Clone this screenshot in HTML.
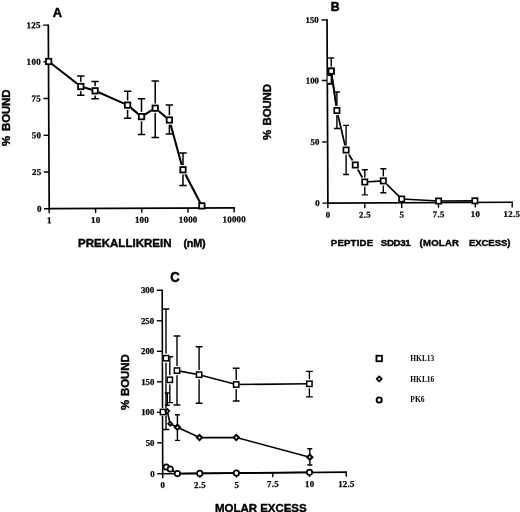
<!DOCTYPE html>
<html><head><meta charset="utf-8"><title>Figure</title>
<style>
html,body{margin:0;padding:0;background:#fff}
svg{display:block}
.tk{font-family:"Liberation Serif","DejaVu Serif",serif;font-weight:bold;fill:#000;stroke:#000;stroke-width:.25px}
.sb{font-family:"Liberation Sans","DejaVu Sans",sans-serif;font-weight:bold;fill:#000;stroke:#000;stroke-width:.4px}
.t{stroke-width:.5px}
.lg{font-family:"Liberation Serif","DejaVu Serif",serif;font-weight:bold;fill:#000}
</style></head><body>
<svg width="520" height="512" viewBox="0 0 520 512">
<rect width="520" height="512" fill="#fff"/>
<g transform="rotate(-0.28 49.2 208.7)">
<path d="M49.2 24.4V208.7H234.9" fill="none" stroke="#000" stroke-width="1.7"/>
<path d="M44 25.1H49.2" stroke="#000" stroke-width="1.4"/>
<text x="41.699999999999996" y="28.07" text-anchor="end" class="tk" font-size="9" letter-spacing="0.3">125</text>
<path d="M44 61.8H49.2" stroke="#000" stroke-width="1.4"/>
<text x="41.699999999999996" y="64.77" text-anchor="end" class="tk" font-size="9" letter-spacing="0.3">100</text>
<path d="M44 98.5H49.2" stroke="#000" stroke-width="1.4"/>
<text x="41.699999999999996" y="101.47" text-anchor="end" class="tk" font-size="9" letter-spacing="0.3">75</text>
<path d="M44 135.3H49.2" stroke="#000" stroke-width="1.4"/>
<text x="41.699999999999996" y="138.27" text-anchor="end" class="tk" font-size="9" letter-spacing="0.3">50</text>
<path d="M44 172H49.2" stroke="#000" stroke-width="1.4"/>
<text x="41.699999999999996" y="174.97" text-anchor="end" class="tk" font-size="9" letter-spacing="0.3">25</text>
<path d="M44 208.7H49.2" stroke="#000" stroke-width="1.4"/>
<text x="41.699999999999996" y="211.67" text-anchor="end" class="tk" font-size="9" letter-spacing="0.3">0</text>
<path d="M49.2 208.7V213.3" stroke="#000" stroke-width="1.4"/>
<text x="49.300000000000004" y="223.27" text-anchor="middle" class="tk" font-size="9" letter-spacing="0.2">1</text>
<path d="M95.6 208.7V213.3" stroke="#000" stroke-width="1.4"/>
<text x="95.69999999999999" y="223.27" text-anchor="middle" class="tk" font-size="9" letter-spacing="0.2">10</text>
<path d="M141.8 208.7V213.3" stroke="#000" stroke-width="1.4"/>
<text x="141.9" y="223.27" text-anchor="middle" class="tk" font-size="9" letter-spacing="0.2">100</text>
<path d="M188 208.7V213.3" stroke="#000" stroke-width="1.4"/>
<text x="188.1" y="223.27" text-anchor="middle" class="tk" font-size="9" letter-spacing="0.2">1000</text>
<path d="M234.1 208.7V213.3" stroke="#000" stroke-width="1.4"/>
<text x="234.2" y="223.27" text-anchor="middle" class="tk" font-size="9" letter-spacing="0.2">10000</text>
</g>
<path d="M77.10 76.00H84.50M80.80 76.00V95.30M77.10 95.30H84.50" fill="none" stroke="#000" stroke-width="1.5"/>
<path d="M91.40 81.60H98.80M95.10 81.60V98.80M91.40 98.80H98.80" fill="none" stroke="#000" stroke-width="1.5"/>
<path d="M123.90 91.20H131.30M127.60 91.20V118.30M123.90 118.30H131.30" fill="none" stroke="#000" stroke-width="1.5"/>
<path d="M137.80 98.70H145.20M141.50 98.70V134.60M137.80 134.60H145.20" fill="none" stroke="#000" stroke-width="1.5"/>
<path d="M151.50 80.90H158.90M155.20 80.90V137.50M151.50 137.50H158.90" fill="none" stroke="#000" stroke-width="1.5"/>
<path d="M165.70 105.00H173.10M169.40 105.00V134.00M165.70 134.00H173.10" fill="none" stroke="#000" stroke-width="1.5"/>
<path d="M179.30 153.00H186.70M183.00 153.00V185.50M179.30 185.50H186.70" fill="none" stroke="#000" stroke-width="1.5"/>
<path d="M48.70 61.50L80.80 86.50L95.10 90.80L127.60 105.10L141.50 116.60L155.20 108.20L169.40 120.00L183.00 169.75L201.90 205.90" fill="none" stroke="#000" stroke-width="2.1" stroke-linejoin="round"/>
<rect x="46.00" y="58.80" width="5.4" height="5.4" fill="#fff" stroke="#000" stroke-width="1.8"/>
<rect x="77.40" y="81.80" width="6.80" height="9.40" fill="#fff"/><rect x="78.10" y="83.80" width="5.4" height="5.4" fill="#fff" stroke="#000" stroke-width="1.8"/>
<rect x="91.70" y="86.10" width="6.80" height="9.40" fill="#fff"/><rect x="92.40" y="88.10" width="5.4" height="5.4" fill="#fff" stroke="#000" stroke-width="1.8"/>
<rect x="124.20" y="100.40" width="6.80" height="9.40" fill="#fff"/><rect x="124.90" y="102.40" width="5.4" height="5.4" fill="#fff" stroke="#000" stroke-width="1.8"/>
<rect x="138.10" y="111.90" width="6.80" height="9.40" fill="#fff"/><rect x="138.80" y="113.90" width="5.4" height="5.4" fill="#fff" stroke="#000" stroke-width="1.8"/>
<rect x="151.80" y="103.50" width="6.80" height="9.40" fill="#fff"/><rect x="152.50" y="105.50" width="5.4" height="5.4" fill="#fff" stroke="#000" stroke-width="1.8"/>
<rect x="166.00" y="115.30" width="6.80" height="9.40" fill="#fff"/><rect x="166.70" y="117.30" width="5.4" height="5.4" fill="#fff" stroke="#000" stroke-width="1.8"/>
<rect x="179.60" y="165.05" width="6.80" height="9.40" fill="#fff"/><rect x="180.30" y="167.05" width="5.4" height="5.4" fill="#fff" stroke="#000" stroke-width="1.8"/>
<rect x="199.20" y="203.20" width="5.4" height="5.4" fill="#fff" stroke="#000" stroke-width="1.8"/>
<text x="57.4" y="16.9" text-anchor="middle" class="sb t" font-size="12.8">A</text>
<text transform="translate(10.1,146) rotate(-90)" class="sb" font-size="11.5">% <tspan x="15" textLength="41.6">BOUND</tspan></text>
<text y="247.3" class="sb" font-size="11.5"><tspan x="78" textLength="93.5">PREKALLIKREIN</tspan> <tspan x="183.4" textLength="22.2" font-size="10.8">(nM)</tspan></text>
<g transform="rotate(-0.27 327.9 203.1)">
<path d="M327.9 19.2V203.1H512.9" fill="none" stroke="#000" stroke-width="1.7"/>
<path d="M322.4 19.9H327.9" stroke="#000" stroke-width="1.4"/>
<text x="319.6" y="22.80" text-anchor="end" class="tk" font-size="8.8">150</text>
<path d="M322.4 80.5H327.9" stroke="#000" stroke-width="1.4"/>
<text x="319.6" y="83.40" text-anchor="end" class="tk" font-size="8.8">100</text>
<path d="M322.4 141.9H327.9" stroke="#000" stroke-width="1.4"/>
<text x="319.6" y="144.80" text-anchor="end" class="tk" font-size="8.8">50</text>
<path d="M322.4 203.1H327.9" stroke="#000" stroke-width="1.4"/>
<text x="319.6" y="206.00" text-anchor="end" class="tk" font-size="8.8">0</text>
<path d="M327.9 203.1V208.3" stroke="#000" stroke-width="1.4"/>
<text x="328.04999999999995" y="217.80" text-anchor="middle" class="tk" font-size="8.8" letter-spacing="0.3">0</text>
<path d="M364.8 203.1V208.3" stroke="#000" stroke-width="1.4"/>
<text x="364.95" y="217.80" text-anchor="middle" class="tk" font-size="8.8" letter-spacing="0.3">2.5</text>
<path d="M401.7 203.1V208.3" stroke="#000" stroke-width="1.4"/>
<text x="401.84999999999997" y="217.80" text-anchor="middle" class="tk" font-size="8.8" letter-spacing="0.3">5</text>
<path d="M438.5 203.1V208.3" stroke="#000" stroke-width="1.4"/>
<text x="438.65" y="217.80" text-anchor="middle" class="tk" font-size="8.8" letter-spacing="0.3">7.5</text>
<path d="M475.3 203.1V208.3" stroke="#000" stroke-width="1.4"/>
<text x="475.45" y="217.80" text-anchor="middle" class="tk" font-size="8.8" letter-spacing="0.3">10</text>
<path d="M512.2 203.1V208.3" stroke="#000" stroke-width="1.4"/>
<text x="511.75" y="217.80" text-anchor="middle" class="tk" font-size="8.8" letter-spacing="0.3">12.5</text>
</g>
<path d="M328.20 58.00H334.20M331.20 58.00V84.00M328.20 84.00H334.20" fill="none" stroke="#000" stroke-width="1.4"/>
<path d="M333.90 92.00H339.90M336.90 92.00V128.50M333.90 128.50H339.90" fill="none" stroke="#000" stroke-width="1.4"/>
<path d="M343.10 125.40H349.10M346.10 125.40V174.50M343.10 174.50H349.10" fill="none" stroke="#000" stroke-width="1.4"/>
<path d="M361.80 169.70H367.80M364.80 169.70V194.90M361.80 194.90H367.80" fill="none" stroke="#000" stroke-width="1.4"/>
<path d="M380.30 168.70H386.30M383.30 168.70V192.70M380.30 192.70H386.30" fill="none" stroke="#000" stroke-width="1.4"/>
<path d="M331.20 71.10L336.90 110.50L346.10 150.00L355.30 165.00L364.80 182.00L383.30 180.90L401.70 199.00L438.60 201.00L474.90 200.80" fill="none" stroke="#000" stroke-width="1.7" stroke-linejoin="round"/>
<rect x="327.90" y="66.70" width="6.60" height="8.80" fill="#fff"/><rect x="328.55" y="68.45" width="5.3" height="5.3" fill="#fff" stroke="#000" stroke-width="1.7"/>
<path d="M327.6 75.2H331.4V83.4H327.6" fill="#fff" stroke="#000" stroke-width="1.5"/>
<path d="M331.20 71.10L336.90 110.50" fill="none" stroke="#000" stroke-width="1.7" stroke-linejoin="round"/>
<rect x="328.55" y="68.45" width="5.3" height="5.3" fill="#fff" stroke="#000" stroke-width="1.7"/>
<rect x="333.60" y="105.90" width="6.60" height="9.20" fill="#fff"/><rect x="334.25" y="107.85" width="5.3" height="5.3" fill="#fff" stroke="#000" stroke-width="1.7"/>
<rect x="342.80" y="145.40" width="6.60" height="9.20" fill="#fff"/><rect x="343.45" y="147.35" width="5.3" height="5.3" fill="#fff" stroke="#000" stroke-width="1.7"/>
<rect x="352.00" y="160.40" width="6.60" height="9.20" fill="#fff"/><rect x="352.65" y="162.35" width="5.3" height="5.3" fill="#fff" stroke="#000" stroke-width="1.7"/>
<rect x="361.50" y="177.40" width="6.60" height="9.20" fill="#fff"/><rect x="362.15" y="179.35" width="5.3" height="5.3" fill="#fff" stroke="#000" stroke-width="1.7"/>
<rect x="380.00" y="176.30" width="6.60" height="9.20" fill="#fff"/><rect x="380.65" y="178.25" width="5.3" height="5.3" fill="#fff" stroke="#000" stroke-width="1.7"/>
<rect x="399.05" y="196.35" width="5.3" height="5.3" fill="#fff" stroke="#000" stroke-width="1.7"/>
<rect x="435.95" y="198.35" width="5.3" height="5.3" fill="#fff" stroke="#000" stroke-width="1.7"/>
<rect x="472.25" y="198.15" width="5.3" height="5.3" fill="#fff" stroke="#000" stroke-width="1.7"/>
<text x="335.1" y="10.7" text-anchor="middle" class="sb t" font-size="12.2">B</text>
<text transform="translate(270.6,140) rotate(-90)" class="sb" font-size="11.5">% <tspan x="14.5" textLength="41.6">BOUND</tspan></text>
<text y="246.4" class="sb" font-size="9.6"><tspan x="330.8" textLength="42.3">PEPTIDE</tspan> <tspan x="380.8" textLength="29.8">SDD31</tspan> <tspan x="419.5" textLength="39.5">(MOLAR</tspan> <tspan x="469" textLength="41.4">EXCESS)</tspan></text>
<path d="M162.2 289.6L162.7 473.75L347 472.10" fill="none" stroke="#000" stroke-width="1.5999999999999999" stroke-linejoin="miter"/>
<path d="M156.70 290.3H162.20" stroke="#000" stroke-width="1.4"/>
<text x="154.1" y="293.20" text-anchor="end" class="tk" font-size="8.8">300</text>
<path d="M156.78 320.8H162.28" stroke="#000" stroke-width="1.4"/>
<text x="154.18" y="323.70" text-anchor="end" class="tk" font-size="8.8">250</text>
<path d="M156.87 351.3H162.37" stroke="#000" stroke-width="1.4"/>
<text x="154.27" y="354.20" text-anchor="end" class="tk" font-size="8.8">200</text>
<path d="M156.95 381.8H162.45" stroke="#000" stroke-width="1.4"/>
<text x="154.35" y="384.70" text-anchor="end" class="tk" font-size="8.8">150</text>
<path d="M157.03 412.3H162.53" stroke="#000" stroke-width="1.4"/>
<text x="154.43" y="415.20" text-anchor="end" class="tk" font-size="8.8">100</text>
<path d="M157.12 442.8H162.62" stroke="#000" stroke-width="1.4"/>
<text x="154.52" y="445.70" text-anchor="end" class="tk" font-size="8.8">50</text>
<path d="M157.20 473.75H162.70" stroke="#000" stroke-width="1.4"/>
<text x="154.6" y="476.65" text-anchor="end" class="tk" font-size="8.8">0</text>
<path d="M162.7 473.75V478.35" stroke="#000" stroke-width="1.4"/>
<text x="162.85" y="488.45" text-anchor="middle" class="tk" font-size="8.8" letter-spacing="0.3">0</text>
<path d="M199.8 473.42V478.02" stroke="#000" stroke-width="1.4"/>
<text x="199.95000000000002" y="488.12" text-anchor="middle" class="tk" font-size="8.8" letter-spacing="0.3">2.5</text>
<path d="M236.6 473.09V477.69" stroke="#000" stroke-width="1.4"/>
<text x="236.75" y="487.79" text-anchor="middle" class="tk" font-size="8.8" letter-spacing="0.3">5</text>
<path d="M272.8 472.76V477.36" stroke="#000" stroke-width="1.4"/>
<text x="272.95" y="487.46" text-anchor="middle" class="tk" font-size="8.8" letter-spacing="0.3">7.5</text>
<path d="M309.5 472.43V477.03" stroke="#000" stroke-width="1.4"/>
<text x="309.65" y="487.13" text-anchor="middle" class="tk" font-size="8.8" letter-spacing="0.3">10</text>
<path d="M346.3 472.10V476.70" stroke="#000" stroke-width="1.4"/>
<text x="346.45" y="486.80" text-anchor="middle" class="tk" font-size="8.8" letter-spacing="0.3">12.5</text>
<path d="M162.60 309.00H169.40M166.00 309.00V429.50M162.60 429.50H169.40" fill="none" stroke="#000" stroke-width="1.4"/>
<path d="M166.40 356.80H173.20M169.80 356.80V402.60M166.40 402.60H173.20" fill="none" stroke="#000" stroke-width="1.4"/>
<path d="M173.60 336.00H180.40M177.00 336.00V405.00M173.60 405.00H180.40" fill="none" stroke="#000" stroke-width="1.4"/>
<path d="M195.70 346.80H202.50M199.10 346.80V403.20M195.70 403.20H202.50" fill="none" stroke="#000" stroke-width="1.4"/>
<path d="M232.80 368.20H239.60M236.20 368.20V401.00M232.80 401.00H239.60" fill="none" stroke="#000" stroke-width="1.4"/>
<path d="M306.00 371.40H312.80M309.40 371.40V396.90M306.00 396.90H312.80" fill="none" stroke="#000" stroke-width="1.4"/>
<path d="M164.80 393.00H169.80M167.30 393.00V405.20M164.80 405.20H169.80" fill="none" stroke="#000" stroke-width="1.4"/>
<path d="M174.90 414.80H179.90M177.40 414.80V440.40M174.90 440.40H179.90" fill="none" stroke="#000" stroke-width="1.4"/>
<path d="M307.30 448.80H312.30M309.80 448.80V465.00M307.30 465.00H312.30" fill="none" stroke="#000" stroke-width="1.4"/>
<path d="M177.00 370.60L199.10 374.70L236.20 384.50L309.40 383.80" fill="none" stroke="#000" stroke-width="1.6" stroke-linejoin="round"/>
<path d="M167.30 411.00L170.10 423.80L177.40 427.30L199.50 437.60L236.30 437.50L309.80 457.20" fill="none" stroke="#000" stroke-width="1.6" stroke-linejoin="round"/>
<path d="M166.30 467.00L170.30 469.00L177.40 473.60L199.80 473.40L236.40 473.10L309.50 472.30" fill="none" stroke="#000" stroke-width="1.6" stroke-linejoin="round"/>
<circle cx="166.30" cy="467.00" r="2.7" fill="#fff" stroke="#000" stroke-width="1.7"/>
<circle cx="170.30" cy="469.00" r="2.7" fill="#fff" stroke="#000" stroke-width="1.7"/>
<circle cx="177.40" cy="473.60" r="2.7" fill="#fff" stroke="#000" stroke-width="1.7"/>
<circle cx="199.80" cy="473.40" r="2.7" fill="#fff" stroke="#000" stroke-width="1.7"/>
<circle cx="236.40" cy="473.10" r="2.7" fill="#fff" stroke="#000" stroke-width="1.7"/>
<circle cx="309.50" cy="472.30" r="2.7" fill="#fff" stroke="#000" stroke-width="1.7"/>
<rect x="159.80" y="408.10" width="6.40" height="7.80" fill="#fff"/><rect x="160.35" y="409.35" width="5.3" height="5.3" fill="#fff" stroke="#000" stroke-width="1.5"/>
<path d="M165.30 411.00L167.30 409.00L169.30 411.00L167.30 413.00Z" fill="#fff" stroke="#000" stroke-width="1.7"/>
<path d="M168.10 423.80L170.10 421.80L172.10 423.80L170.10 425.80Z" fill="#fff" stroke="#000" stroke-width="1.7"/>
<path d="M174.80 427.30L177.40 424.70L180.00 427.30L177.40 429.90Z" fill="#fff" stroke="#000" stroke-width="2.0"/>
<path d="M196.90 437.60L199.50 435.00L202.10 437.60L199.50 440.20Z" fill="#fff" stroke="#000" stroke-width="2.0"/>
<path d="M233.70 437.50L236.30 434.90L238.90 437.50L236.30 440.10Z" fill="#fff" stroke="#000" stroke-width="2.0"/>
<path d="M307.20 457.20L309.80 454.60L312.40 457.20L309.80 459.80Z" fill="#fff" stroke="#000" stroke-width="2.0"/>
<rect x="162.80" y="353.60" width="6.40" height="9.20" fill="#fff"/><rect x="163.35" y="355.55" width="5.3" height="5.3" fill="#fff" stroke="#000" stroke-width="1.5"/>
<rect x="166.60" y="375.20" width="6.40" height="9.20" fill="#fff"/><rect x="167.15" y="377.15" width="5.3" height="5.3" fill="#fff" stroke="#000" stroke-width="1.5"/>
<rect x="173.80" y="366.00" width="6.40" height="9.20" fill="#fff"/><rect x="174.35" y="367.95" width="5.3" height="5.3" fill="#fff" stroke="#000" stroke-width="1.5"/>
<rect x="195.90" y="370.10" width="6.40" height="9.20" fill="#fff"/><rect x="196.45" y="372.05" width="5.3" height="5.3" fill="#fff" stroke="#000" stroke-width="1.5"/>
<rect x="233.00" y="379.90" width="6.40" height="9.20" fill="#fff"/><rect x="233.55" y="381.85" width="5.3" height="5.3" fill="#fff" stroke="#000" stroke-width="1.5"/>
<rect x="306.20" y="379.20" width="6.40" height="9.20" fill="#fff"/><rect x="306.75" y="381.15" width="5.3" height="5.3" fill="#fff" stroke="#000" stroke-width="1.5"/>
<text x="175" y="281.9" text-anchor="middle" class="sb t" font-size="15" textLength="9.4" lengthAdjust="spacingAndGlyphs">C</text>
<text transform="translate(129.2,410) rotate(-90)" class="sb" font-size="11.5">% <tspan x="13.9" textLength="42">BOUND</tspan></text>
<text x="215" y="511.5" class="sb" font-size="11.5" textLength="91.6">MOLAR EXCESS</text>
<rect x="376.45" y="355.75" width="5.5" height="5.5" fill="#fff" stroke="#000" stroke-width="1.8"/>
<path d="M376.70 378.90L379.20 376.40L381.70 378.90L379.20 381.40Z" stroke-linejoin="round" fill="#fff" stroke="#000" stroke-width="1.9"/>
<circle cx="379.20" cy="400.00" r="2.6" fill="#fff" stroke="#000" stroke-width="1.9"/>
<text x="410.3" y="360.8" class="lg" font-size="8.2" lengthAdjust="spacingAndGlyphs" textLength="24">HKL13</text>
<text x="410.3" y="381.5" class="lg" font-size="8.2" lengthAdjust="spacingAndGlyphs" textLength="24">HKL16</text>
<text x="410.3" y="402.0" class="lg" font-size="8.2" lengthAdjust="spacingAndGlyphs" textLength="14.3">PK6</text>
</svg>
</body></html>
